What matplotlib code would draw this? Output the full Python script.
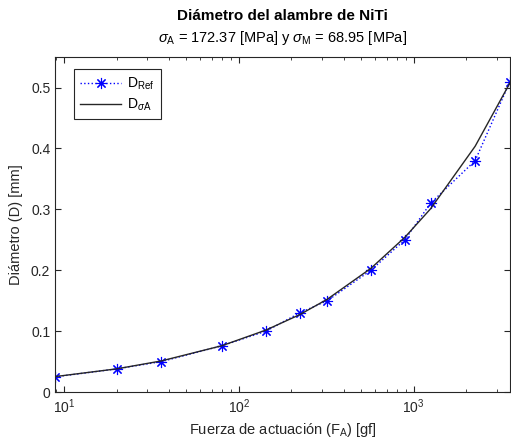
import matplotlib
matplotlib.use("Agg")
import matplotlib.pyplot as plt

plt.rcParams["font.family"] = ["Liberation Sans", "DejaVu Sans"]
plt.rcParams["mathtext.fontset"] = "custom"
plt.rcParams["mathtext.rm"] = "Liberation Sans"
plt.rcParams["mathtext.it"] = "Liberation Sans:italic"
plt.rcParams["mathtext.bf"] = "Liberation Sans:bold"

# Pull force (gf) and wire diameters (mm)
force = [8.9, 20, 36, 80, 143, 223, 321, 570, 891, 1250, 2250, 3560]
d_ref = [0.025, 0.038, 0.050, 0.076, 0.100, 0.130, 0.150, 0.200, 0.250, 0.310, 0.380, 0.510]
d_sigma = [0.0254, 0.0381, 0.0511, 0.0761, 0.1018, 0.1271, 0.1525, 0.2032, 0.2541, 0.3009, 0.4037, 0.5078]

fig = plt.figure(figsize=(5.11, 4.43), dpi=100)
ax = fig.add_axes([0.108, 0.115, 0.89, 0.756])

# MATLAB-like asterisk marker
ax.plot(force, d_ref, linestyle=":", color="blue", marker=(8, 2, 0), markersize=8,
        markeredgewidth=0.8, linewidth=1, label=r"D$_{\mathrm{Ref}}$")
ax.plot(force, d_sigma, linestyle="-", color="#262626", linewidth=1,
        label=r"D$_{\sigma\mathrm{A}}$")

ax.set_xscale("log")
ax.set_xlim(8.9, 3560)
ax.set_ylim(0, 0.55)
ax.set_yticks([0, 0.1, 0.2, 0.3, 0.4, 0.5])
ax.set_yticklabels(["0", "0.1", "0.2", "0.3", "0.4", "0.5"])

ax.tick_params(which="both", direction="in", top=True, right=True,
               labelsize=10, colors="#262626")
ax.tick_params(which="major", length=4)
ax.tick_params(which="minor", length=2)
for s in ax.spines.values():
    s.set_color("#262626")
    s.set_linewidth(0.8)

ax.set_xlabel(r"Fuerza de actuación (F$_{\mathrm{A}}$) [gf]", fontsize=10.5, color="#262626")
ax.set_ylabel("Diámetro (D) [mm]", fontsize=10.5, color="#262626", labelpad=6)

fig.text(0.553, 0.965, "Diámetro del alambre de NiTi", ha="center", va="center",
         fontsize=11, fontweight="bold")
fig.text(0.553, 0.915,
         r"$\sigma_{\mathrm{A}}$ = 172.37 [MPa] y $\sigma_{\mathrm{M}}$ = 68.95 [MPa]",
         ha="center", va="center", fontsize=10.5)

leg = ax.legend(loc="upper left", bbox_to_anchor=(0.025, 0.985), fontsize=10,
                fancybox=False, framealpha=1, edgecolor="#262626",
                handlelength=3.0, borderpad=0.45, labelspacing=0.35, handletextpad=0.4)
leg.get_frame().set_linewidth(0.8)

fig.savefig("out.png", dpi=100)
